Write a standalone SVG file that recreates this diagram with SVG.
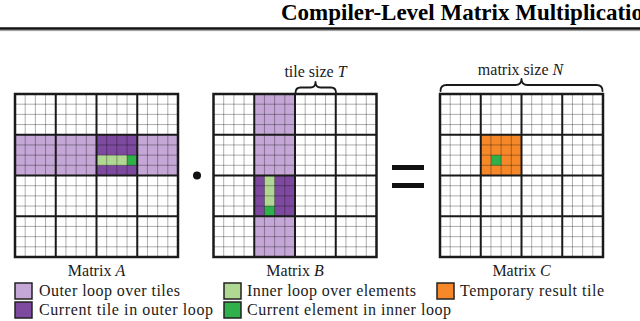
<svg xmlns="http://www.w3.org/2000/svg" xmlns:xlink="http://www.w3.org/1999/xlink" width="640" height="321" viewBox="0 0 640 321">
<style>
.lbl{font-family:"Liberation Serif","Times New Roman",serif;font-size:16px;fill:#1a1a1a}
.it{font-style:italic}
.title{font-family:"Liberation Serif","Times New Roman",serif;font-size:23px;font-weight:bold;fill:#000}
.thin{fill:none;stroke:#000;stroke-opacity:0.32;stroke-width:1}
.major{fill:none;stroke:#1a1a1a;stroke-width:2}
.border{fill:none;stroke:#1a1a1a;stroke-width:2.5}
.brace{fill:none;stroke:#1a1a1a;stroke-width:1.8;stroke-linejoin:round;stroke-linecap:round}
.lp{fill:#c4a7d6}
.dp{fill:#7d4a9f}
.lg{fill:#b0d893}
.g{fill:#2fb04a}
.or{fill:#f6882a}
.sw{stroke:#222;stroke-width:1.5}
</style>
<defs>
<g id="grid">
<path class="thin" d="M10.19,0V163M20.38,0V163M30.56,0V163M50.94,0V163M61.13,0V163M71.31,0V163M91.69,0V163M101.88,0V163M112.06,0V163M132.44,0V163M142.63,0V163M152.81,0V163M0,10.19H163M0,20.38H163M0,30.56H163M0,50.94H163M0,61.13H163M0,71.31H163M0,91.69H163M0,101.88H163M0,112.06H163M0,132.44H163M0,142.63H163M0,152.81H163"/>
<path class="major" d="M40.75,0V163M81.5,0V163M122.25,0V163M0,40.75H163M0,81.5H163M0,122.25H163"/>
<rect class="border" x="0" y="0" width="163" height="163"/>
</g>
</defs>

<g id="header">
<text class="title" x="281" y="20">Compiler-Level Matrix Multiplicatio</text>
<line x1="0" y1="28.5" x2="640" y2="28.5" stroke="#111" stroke-width="2.5"/>
<line x1="0" y1="30.6" x2="640" y2="30.6" stroke="#999" stroke-width="1"/>
</g>

<g id="matrixA">
<rect class="lp" x="15" y="134.75" width="163" height="40.75"/>
<rect class="dp" x="96.5" y="134.75" width="40.75" height="40.75"/>
<rect class="lg" x="96.5" y="155.13" width="30.56" height="10.19"/>
<rect class="g" x="127.06" y="155.13" width="10.19" height="10.19"/>
<use xlink:href="#grid" x="15" y="94"/>
<text class="lbl" x="96.5" y="276" text-anchor="middle">Matrix <tspan class="it">A</tspan></text>
</g>

<g id="dot">
<circle cx="197" cy="175.5" r="4" fill="#111"/>
</g>

<g id="matrixB">
<rect class="lp" x="254.25" y="94" width="40.75" height="163"/>
<rect class="dp" x="254.25" y="175.5" width="40.75" height="40.75"/>
<rect class="lg" x="264.44" y="175.5" width="10.19" height="30.56"/>
<rect class="g" x="264.44" y="206.06" width="10.19" height="10.19"/>
<use xlink:href="#grid" x="213.5" y="94"/>
<text class="lbl" x="295" y="276" text-anchor="middle">Matrix <tspan class="it">B</tspan></text>
</g>

<g id="tileBrace">
<path class="brace" d="M295.5,93 Q295.5,87.5 300.5,87.5 L310.5,87.5 Q315.5,87.5 315.5,82 Q315.5,87.5 320.5,87.5 L331,87.5 Q336,87.5 336,93"/>
<text class="lbl" x="315.5" y="77" text-anchor="middle">tile size <tspan class="it">T</tspan></text>
</g>

<g id="equals">
<rect x="392" y="165" width="32" height="5" fill="#111"/>
<rect x="392" y="183" width="32" height="5" fill="#111"/>
</g>

<g id="matrixC">
<rect class="or" x="480.75" y="134.75" width="40.75" height="40.75"/>
<rect class="g" x="490.94" y="155.13" width="10.19" height="10.19"/>
<use xlink:href="#grid" x="440" y="94"/>
<text class="lbl" x="521.5" y="276" text-anchor="middle">Matrix <tspan class="it">C</tspan></text>
</g>

<g id="sizeBrace">
<path class="brace" d="M440.5,91 Q440.5,85 446.5,85 L515.5,85 Q521.5,85 521.5,79 Q521.5,85 527.5,85 L596.5,85 Q602.5,85 602.5,91"/>
<text class="lbl" x="520.5" y="75" text-anchor="middle">matrix size <tspan class="it">N</tspan></text>
</g>

<g id="legend">
<rect class="lp sw" x="15" y="283" width="17" height="16"/>
<text class="lbl" x="39" y="296" textLength="141" lengthAdjust="spacing">Outer loop over tiles</text>
<rect class="dp sw" x="15" y="302" width="17" height="16"/>
<text class="lbl" x="39" y="315" textLength="174" lengthAdjust="spacing">Current tile in outer loop</text>
<rect class="lg sw" x="224" y="283" width="17" height="16"/>
<text class="lbl" x="247" y="296" textLength="169" lengthAdjust="spacing">Inner loop over elements</text>
<rect class="g sw" x="224" y="302" width="17" height="16"/>
<text class="lbl" x="247" y="315" textLength="204" lengthAdjust="spacing">Current element in inner loop</text>
<rect class="or sw" x="437" y="283" width="17" height="16"/>
<text class="lbl" x="460" y="296" textLength="144" lengthAdjust="spacing">Temporary result tile</text>
</g>
</svg>
